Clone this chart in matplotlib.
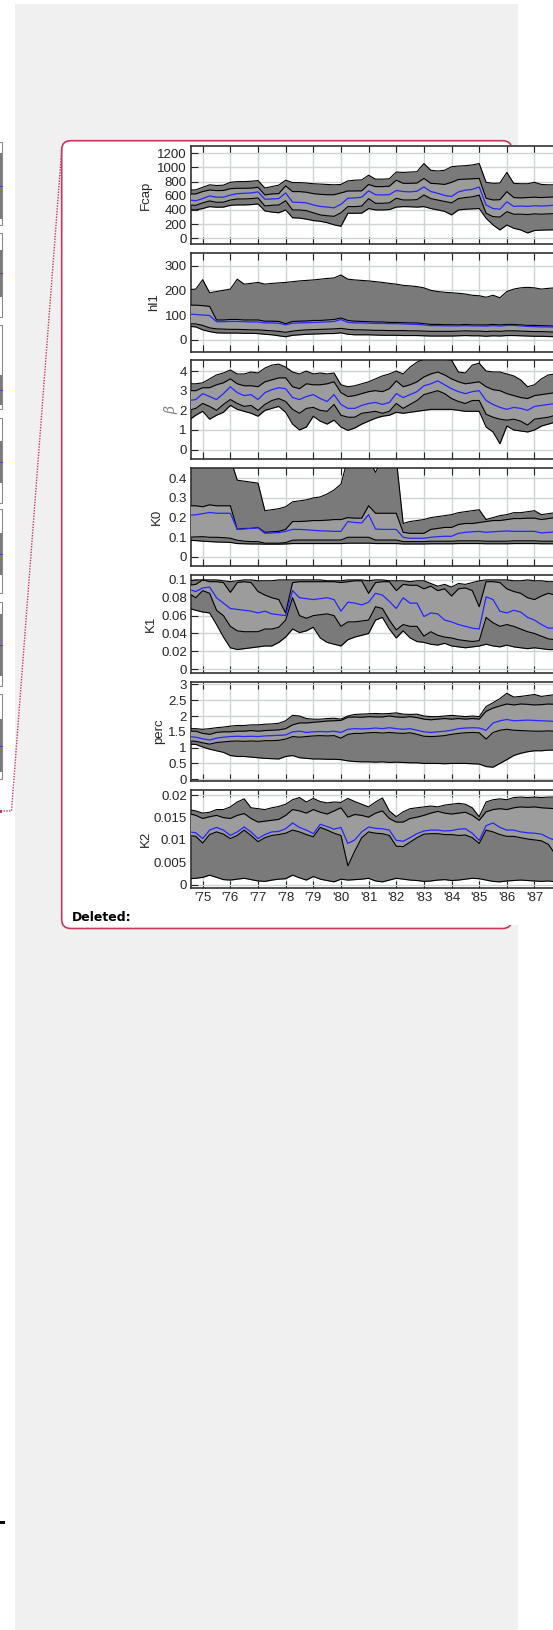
import matplotlib
matplotlib.use("Agg")
import matplotlib.pyplot as plt
import numpy as np
from matplotlib.patches import Rectangle, FancyBboxPatch

W, H = 553, 1630

# quarterly time grid (decimal years)
years = np.arange(1974.5, 1988.01, 0.25)
year_ticks = list(range(1975, 1990))
# labels past '87 fall outside the visible crop
year_labels = ["'%02d" % (y % 100) if y <= 1987 else "" for y in year_ticks]

# ---- Fcap ----
fcap_hi95 = [680, 684, 720, 755, 745, 750, 790, 800, 800, 805, 815,
             710, 730, 750, 820, 786, 786, 780, 770, 765, 760, 755,
             760, 810, 820, 824, 890, 835, 835, 840, 935, 930, 935,
             940, 1055, 960, 950, 960, 1010, 1020, 1025, 1035, 1055, 790,
             776, 780, 930, 776, 770, 770, 790, 760, 755, 755, 760]
fcap_hi50 = [626, 626, 660, 682, 673, 675, 700, 706, 706, 708, 720,
             612, 626, 630, 740, 659, 659, 650, 630, 620, 615, 615,
             640, 668, 668, 670, 760, 729, 729, 735, 820, 776, 776,
             780, 845, 776, 770, 760, 790, 830, 835, 840, 845, 565,
             541, 545, 659, 575, 570, 575, 580, 575, 580, 585, 590]
fcap_med = [541, 530, 560, 598, 580, 580, 610, 630, 635, 640, 655,
            551, 555, 560, 640, 510, 507, 500, 470, 450, 440, 430,
            480, 565, 570, 580, 670, 615, 612, 615, 675, 660, 655,
            665, 725, 660, 635, 605, 590, 655, 680, 690, 725, 470,
            420, 410, 515, 450, 455, 450, 460, 455, 460, 470, 475]
fcap_lo50 = [471, 465, 500, 527, 508, 510, 540, 555, 555, 560, 570,
             456, 466, 470, 530, 400, 400, 390, 360, 330, 318, 310,
             360, 447, 447, 455, 560, 494, 494, 500, 565, 541, 541,
             545, 612, 560, 540, 520, 500, 560, 575, 585, 610, 353,
             306, 300, 376, 340, 340, 335, 345, 340, 345, 350, 355]
fcap_lo95 = [400, 400, 420, 447, 438, 440, 465, 471, 471, 475, 485,
             386, 370, 360, 400, 290, 285, 270, 250, 240, 220, 190,
             170, 353, 353, 355, 420, 400, 400, 405, 440, 447, 445,
             440, 447, 420, 400, 380, 330, 400, 410, 415, 420, 282,
             188, 118, 188, 141, 118, 75, 110, 115, 118, 120, 125]

# ---- hl1 ----
hl1_hi95 = [203, 205, 243, 190, 195, 200, 205, 245, 225, 228, 232,
            225, 228, 230, 232, 235, 238, 240, 242, 245, 248, 250,
            262, 245, 242, 240, 238, 235, 232, 228, 225, 220, 218,
            215, 210, 200, 195, 192, 190, 188, 185, 180, 178, 172,
            180, 170, 195, 205, 210, 212, 210, 205, 208, 210, 208]
hl1_hi50 = [140, 140, 138, 135, 80, 80, 82, 82, 80, 80, 80,
            75, 75, 74, 65, 74, 75, 76, 78, 78, 80, 82,
            88, 78, 75, 74, 73, 72, 72, 70, 70, 69, 68,
            68, 65, 62, 62, 61, 61, 60, 62, 60, 60, 60,
            62, 60, 62, 62, 60, 58, 58, 57, 56, 55, 55]
hl1_med = [104, 102, 100, 98, 73, 73, 74, 74, 73, 72, 72,
           68, 68, 67, 60, 67, 68, 69, 70, 71, 72, 74,
           82, 70, 68, 68, 67, 66, 66, 65, 65, 64, 63,
           62, 60, 57, 57, 56, 56, 56, 57, 56, 56, 55,
           57, 55, 58, 58, 56, 54, 53, 52, 52, 51, 50]
hl1_lo50 = [65, 64, 58, 48, 44, 43, 42, 42, 41, 40, 40,
            38, 36, 34, 30, 35, 38, 40, 41, 42, 43, 44,
            46, 42, 40, 40, 39, 38, 38, 37, 37, 37, 36,
            36, 35, 34, 34, 34, 34, 35, 36, 35, 35, 33,
            35, 34, 36, 36, 35, 34, 33, 33, 32, 31, 31]
hl1_lo95 = [54, 52, 40, 33, 28, 27, 27, 27, 26, 26, 25,
            22, 20, 16, 12, 18, 20, 22, 23, 24, 25, 25,
            28, 22, 20, 20, 20, 19, 18, 18, 18, 17, 17,
            17, 16, 15, 15, 15, 15, 16, 17, 16, 16, 14,
            16, 15, 17, 17, 16, 15, 14, 14, 13, 12, 12]

# ---- beta ----
beta_hi95 = [3.35, 3.35, 3.4, 3.6, 3.8, 3.9, 4.05, 3.85, 3.85, 3.95, 3.9,
             4.15, 4.3, 4.35, 4.2, 3.95, 3.85, 4.0, 3.85, 3.9, 3.85, 3.9,
             3.3, 3.2, 3.25, 3.35, 3.45, 3.6, 3.75, 3.85, 4.0, 3.85, 4.2,
             4.45, 4.6, 4.6, 4.6, 4.6, 4.55, 3.95, 3.9, 4.3, 4.4, 4.0,
             3.95, 3.95, 3.85, 3.75, 3.55, 3.2, 3.3, 3.6, 3.8, 3.85, 3.9]
beta_hi50 = [3.0, 3.0, 3.15, 3.15, 3.3, 3.4, 3.6, 3.35, 3.25, 3.25, 3.2,
             3.45, 3.55, 3.65, 3.65, 3.2, 3.1, 3.35, 3.3, 3.3, 3.35, 3.45,
             2.9, 2.7, 2.75, 2.85, 2.95, 3.0, 2.95, 3.1, 3.5, 3.2, 3.3,
             3.45, 3.7, 3.85, 3.95, 3.8, 3.6, 3.45, 3.35, 3.4, 3.45, 3.2,
             3.05, 3.0, 2.85, 2.75, 2.65, 2.6, 2.75, 2.8, 2.85, 2.9, 2.95]
beta_med = [2.5, 2.55, 2.85, 2.7, 2.55, 2.85, 3.2, 2.9, 2.75, 2.8, 2.55,
            2.9, 3.05, 3.15, 3.1, 2.65, 2.55, 2.7, 2.8, 2.6, 2.45, 2.8,
            2.3, 2.1, 2.1, 2.25, 2.35, 2.4, 2.3, 2.4, 2.85, 2.65, 2.8,
            2.95, 3.25, 3.35, 3.5, 3.3, 3.1, 2.95, 2.85, 2.95, 3.0, 2.5,
            2.3, 2.15, 2.05, 2.15, 2.1, 2.0, 2.2, 2.25, 2.3, 2.35, 2.4]
beta_lo50 = [2.0, 2.1, 2.35, 2.2, 2.0, 2.3, 2.55, 2.35, 2.2, 2.25, 2.0,
             2.3, 2.5, 2.6, 2.45, 2.05, 1.85, 2.1, 2.15, 2.0, 1.95, 2.3,
             1.75, 1.65, 1.65, 1.85, 1.9, 1.95, 1.85, 1.95, 2.35, 2.1, 2.3,
             2.5, 2.8, 2.9, 3.0, 2.85, 2.6, 2.45, 2.35, 2.5, 2.5, 1.8,
             1.65, 1.55, 1.5, 1.55, 1.45, 1.25, 1.55, 1.6, 1.65, 1.75, 1.85]
beta_lo95 = [1.5, 1.75, 1.95, 1.55, 1.75, 1.9, 2.25, 2.05, 1.95, 1.85, 1.7,
             2.0, 2.1, 2.2, 1.9, 1.3, 1.0, 1.15, 1.7, 1.45, 1.3, 1.5,
             1.15, 0.98, 1.1, 1.3, 1.45, 1.6, 1.7, 1.75, 1.9, 1.85, 1.9,
             1.95, 2.0, 2.05, 2.05, 2.05, 2.05, 2.0, 1.95, 1.95, 1.95, 1.15,
             0.9, 0.3, 1.2, 1.0, 0.95, 0.9, 1.0, 1.2, 1.3, 1.4, 1.45]

# ---- K0 ----
k0_hi95 = [0.5, 0.5, 0.5, 0.5, 0.5, 0.5, 0.5, 0.39, 0.385, 0.38, 0.375,
           0.235, 0.24, 0.245, 0.255, 0.28, 0.285, 0.29, 0.3, 0.305, 0.32, 0.34,
           0.37, 0.5, 0.5, 0.5, 0.5, 0.43, 0.5, 0.5, 0.5, 0.17, 0.18,
           0.185, 0.19, 0.2, 0.205, 0.21, 0.215, 0.225, 0.23, 0.235, 0.24, 0.19,
           0.2, 0.21, 0.215, 0.225, 0.225, 0.23, 0.235, 0.215, 0.22, 0.225, 0.225]
k0_hi50 = [0.26, 0.26, 0.255, 0.265, 0.26, 0.26, 0.26, 0.14, 0.145, 0.145, 0.15,
           0.125, 0.128, 0.13, 0.14, 0.18, 0.18, 0.182, 0.185, 0.185, 0.187, 0.19,
           0.19, 0.2, 0.197, 0.197, 0.26, 0.222, 0.222, 0.222, 0.222, 0.125, 0.12,
           0.12, 0.12, 0.14, 0.145, 0.15, 0.15, 0.165, 0.17, 0.17, 0.175, 0.18,
           0.185, 0.185, 0.19, 0.195, 0.195, 0.197, 0.197, 0.19, 0.195, 0.2, 0.2]
k0_med = [0.212, 0.214, 0.22, 0.226, 0.222, 0.222, 0.222, 0.14, 0.142, 0.145, 0.148,
          0.12, 0.122, 0.124, 0.13, 0.14, 0.14, 0.138, 0.135, 0.133, 0.132, 0.13,
          0.13, 0.18, 0.175, 0.173, 0.215, 0.142, 0.14, 0.14, 0.14, 0.1, 0.095,
          0.095, 0.095, 0.1, 0.103, 0.105, 0.105, 0.12, 0.125, 0.128, 0.13, 0.125,
          0.128, 0.13, 0.132, 0.13, 0.13, 0.13, 0.13, 0.122, 0.125, 0.127, 0.128]
k0_lo50 = [0.1, 0.102, 0.103, 0.1, 0.1, 0.098, 0.095, 0.085, 0.08, 0.078, 0.078,
           0.07, 0.07, 0.07, 0.073, 0.085, 0.086, 0.086, 0.086, 0.086, 0.086, 0.086,
           0.086, 0.1, 0.1, 0.1, 0.1, 0.086, 0.086, 0.086, 0.086, 0.078, 0.078,
           0.078, 0.078, 0.08, 0.08, 0.08, 0.08, 0.082, 0.082, 0.082, 0.082, 0.08,
           0.08, 0.08, 0.08, 0.082, 0.082, 0.082, 0.082, 0.08, 0.08, 0.08, 0.08]
k0_lo95 = [0.085, 0.083, 0.08, 0.078, 0.076, 0.075, 0.074, 0.068, 0.067, 0.066, 0.066,
           0.065, 0.065, 0.065, 0.066, 0.068, 0.068, 0.068, 0.068, 0.068, 0.068, 0.068,
           0.068, 0.07, 0.07, 0.07, 0.07, 0.068, 0.068, 0.068, 0.068, 0.066, 0.066,
           0.066, 0.066, 0.067, 0.067, 0.067, 0.067, 0.068, 0.068, 0.068, 0.068, 0.067,
           0.067, 0.067, 0.067, 0.068, 0.068, 0.068, 0.068, 0.067, 0.067, 0.067, 0.067]

# ---- K1 ----
k1_hi95 = [0.099, 0.1, 0.1, 0.1, 0.1, 0.099, 0.098, 0.099, 0.1, 0.1, 0.099,
           0.099, 0.099, 0.1, 0.1, 0.1, 0.1, 0.1, 0.1, 0.1, 0.099, 0.099,
           0.099, 0.1, 0.1, 0.1, 0.099, 0.1, 0.1, 0.099, 0.099, 0.099, 0.098,
           0.099, 0.099, 0.096, 0.093, 0.095, 0.092, 0.096, 0.095, 0.097, 0.099, 0.1,
           0.1, 0.1, 0.1, 0.099, 0.099, 0.1, 0.099, 0.099, 0.098, 0.098, 0.098]
k1_hi50 = [0.094, 0.095, 0.1, 0.098, 0.098, 0.097, 0.086, 0.097, 0.098, 0.097, 0.087,
           0.083, 0.08, 0.078, 0.063, 0.097, 0.098, 0.098, 0.098, 0.098, 0.098, 0.098,
           0.097, 0.098, 0.099, 0.099, 0.085, 0.097, 0.098, 0.098, 0.088, 0.095, 0.094,
           0.094, 0.09, 0.093, 0.088, 0.09, 0.082, 0.09, 0.091, 0.088, 0.07, 0.098,
           0.098, 0.097, 0.09, 0.087, 0.085, 0.08, 0.078, 0.082, 0.085, 0.083, 0.082]
k1_med = [0.0895, 0.087, 0.091, 0.092, 0.08, 0.074, 0.068, 0.067, 0.066, 0.065, 0.063,
          0.065, 0.062, 0.061, 0.06, 0.088, 0.08, 0.079, 0.078, 0.079, 0.08, 0.078,
          0.065, 0.075, 0.074, 0.072, 0.075, 0.085, 0.083, 0.076, 0.068, 0.08, 0.074,
          0.074, 0.059, 0.063, 0.062, 0.055, 0.053, 0.05, 0.048, 0.046, 0.045, 0.081,
          0.078, 0.065, 0.063, 0.066, 0.064, 0.058, 0.055, 0.05, 0.046, 0.046, 0.046]
k1_lo50 = [0.085, 0.08, 0.088, 0.085, 0.066, 0.06, 0.048, 0.043, 0.042, 0.042, 0.042,
           0.045, 0.045, 0.047, 0.055, 0.08, 0.06, 0.057, 0.06, 0.061, 0.062, 0.06,
           0.048, 0.053, 0.053, 0.054, 0.055, 0.07, 0.068, 0.055, 0.044, 0.05, 0.048,
           0.048, 0.037, 0.042, 0.038, 0.036, 0.035, 0.033, 0.032, 0.031, 0.032, 0.058,
           0.052, 0.048, 0.05, 0.048, 0.045, 0.042, 0.04, 0.037, 0.034, 0.033, 0.033]
k1_lo95 = [0.068, 0.066, 0.064, 0.063, 0.05, 0.036, 0.024, 0.022, 0.023, 0.024, 0.025,
           0.026, 0.026, 0.03, 0.036, 0.045, 0.041, 0.043, 0.047, 0.035, 0.03, 0.028,
           0.026, 0.033, 0.036, 0.038, 0.04, 0.055, 0.058, 0.045, 0.035, 0.043, 0.035,
           0.031, 0.03, 0.028, 0.027, 0.029, 0.026, 0.025, 0.024, 0.025, 0.026, 0.028,
           0.026, 0.025, 0.027, 0.025, 0.024, 0.023, 0.024, 0.023, 0.022, 0.022, 0.022]

# ---- perc ----
perc_hi95 = [1.6, 1.6, 1.58, 1.6, 1.63, 1.65, 1.68, 1.7, 1.7, 1.72, 1.72,
             1.74, 1.75, 1.77, 1.85, 2.02, 2.0, 1.92, 1.9, 1.9, 1.92, 1.93,
             1.9, 2.0, 2.05, 2.06, 2.07, 2.08, 2.07, 2.08, 2.1, 2.06, 2.05,
             2.06, 2.0, 1.98, 1.98, 2.0, 2.02, 2.0, 1.98, 2.0, 1.98, 2.3,
             2.42, 2.55, 2.72, 2.6, 2.62, 2.65, 2.68, 2.62, 2.65, 2.68, 2.7]
perc_hi50 = [1.52, 1.52, 1.45, 1.42, 1.48, 1.5, 1.5, 1.52, 1.52, 1.54, 1.52,
             1.54, 1.55, 1.56, 1.6, 1.72, 1.78, 1.78, 1.8, 1.82, 1.84, 1.85,
             1.86, 1.96, 1.97, 1.96, 1.98, 1.97, 1.97, 2.0, 1.97, 1.96, 1.98,
             1.95, 1.9, 1.88, 1.9, 1.92, 1.9, 1.92, 1.9, 1.92, 1.9, 2.15,
             2.25, 2.32, 2.38, 2.35, 2.38, 2.37, 2.35, 2.36, 2.38, 2.37, 2.36]
perc_med = [1.35, 1.33, 1.28, 1.24, 1.3, 1.33, 1.35, 1.36, 1.35, 1.36, 1.35,
            1.37, 1.38, 1.39, 1.4, 1.5, 1.52, 1.48, 1.5, 1.51, 1.5, 1.52,
            1.48, 1.58, 1.6, 1.59, 1.6, 1.62, 1.6, 1.63, 1.6, 1.58, 1.6,
            1.55, 1.5, 1.48, 1.5, 1.52, 1.55, 1.6, 1.62, 1.63, 1.62, 1.55,
            1.78, 1.85, 1.89, 1.85, 1.86, 1.87, 1.86, 1.85, 1.84, 1.83, 1.82]
perc_lo50 = [1.21, 1.2, 1.15, 1.11, 1.16, 1.18, 1.2, 1.21, 1.2, 1.21, 1.2,
             1.22, 1.22, 1.23, 1.27, 1.35, 1.33, 1.35, 1.37, 1.38, 1.37, 1.38,
             1.3, 1.42, 1.45, 1.45, 1.47, 1.48, 1.46, 1.48, 1.46, 1.45, 1.47,
             1.42, 1.36, 1.35, 1.36, 1.38, 1.42, 1.45, 1.47, 1.48, 1.47, 1.27,
             1.48, 1.55, 1.58, 1.55, 1.54, 1.53, 1.52, 1.52, 1.53, 1.52, 1.52]
perc_lo95 = [1.11, 1.1, 1.02, 0.95, 0.9, 0.85, 0.75, 0.72, 0.72, 0.7, 0.68,
             0.66, 0.65, 0.64, 0.72, 0.75, 0.68, 0.66, 0.64, 0.64, 0.63, 0.63,
             0.62, 0.58, 0.56, 0.55, 0.55, 0.54, 0.55, 0.53, 0.54, 0.53, 0.52,
             0.52, 0.5, 0.5, 0.5, 0.49, 0.5, 0.5, 0.5, 0.49, 0.48, 0.4,
             0.38, 0.5, 0.62, 0.75, 0.82, 0.87, 0.9, 0.9, 0.92, 0.92, 0.93]

# ---- K2 ----
k2_hi95 = [0.0168, 0.0165, 0.016, 0.0162, 0.0168, 0.0168, 0.0174, 0.0185, 0.0192, 0.0172, 0.017,
           0.0168, 0.0172, 0.0175, 0.018, 0.019, 0.0195, 0.0185, 0.0193, 0.0186, 0.0183, 0.0185,
           0.0184, 0.0193, 0.0186, 0.018, 0.0174, 0.0185, 0.0194, 0.0165, 0.0152, 0.0163, 0.017,
           0.0172, 0.0174, 0.0176, 0.0174, 0.0178, 0.018, 0.0182, 0.018, 0.0172, 0.0152, 0.0185,
           0.019, 0.0192, 0.019, 0.0195, 0.0196, 0.0195, 0.0196, 0.0195, 0.0196, 0.0196, 0.0195]
k2_hi50 = [0.0159, 0.0155, 0.0148, 0.0152, 0.0155, 0.015, 0.0148, 0.0155, 0.0159, 0.0148, 0.014,
           0.0142, 0.0144, 0.0146, 0.0155, 0.0168, 0.0165, 0.016, 0.0168, 0.0162, 0.0158, 0.0165,
           0.0172, 0.0151, 0.0157, 0.0155, 0.0151, 0.016, 0.0165, 0.0148, 0.014, 0.014, 0.0148,
           0.0151, 0.0155, 0.016, 0.0164, 0.016, 0.0158, 0.016, 0.0162, 0.0155, 0.0144, 0.0163,
           0.0168, 0.017, 0.0168, 0.0172, 0.0174, 0.0173, 0.0174, 0.0172, 0.0171, 0.017, 0.017]
k2_med = [0.0118, 0.0116, 0.0103, 0.0122, 0.0128, 0.0122, 0.011, 0.0118, 0.0129, 0.0118, 0.0103,
          0.0112, 0.0118, 0.0119, 0.0125, 0.0138, 0.0128, 0.0122, 0.0114, 0.0135, 0.013, 0.0124,
          0.0128, 0.0092, 0.01, 0.0118, 0.0129, 0.0126, 0.0125, 0.0122, 0.0099, 0.0097, 0.0105,
          0.0114, 0.012, 0.0122, 0.0122, 0.012, 0.0121, 0.0124, 0.0125, 0.0115, 0.0099, 0.0132,
          0.0138, 0.0128, 0.0122, 0.0122, 0.0118, 0.0116, 0.0115, 0.0113, 0.0105, 0.0099, 0.0098]
k2_lo50 = [0.011, 0.0108, 0.0093, 0.0112, 0.0118, 0.0113, 0.0103, 0.011, 0.0122, 0.011, 0.0096,
           0.0105, 0.011, 0.0112, 0.0115, 0.0122, 0.0118, 0.0112, 0.0107, 0.0128, 0.0122, 0.0115,
           0.011, 0.0042, 0.0075, 0.0105, 0.0118, 0.0115, 0.0114, 0.011, 0.0086, 0.0085, 0.0095,
           0.0105, 0.0113, 0.0114, 0.0114, 0.0112, 0.0112, 0.011, 0.0111, 0.0105, 0.0092, 0.0122,
           0.0118, 0.0112, 0.0108, 0.0108, 0.0105, 0.0102, 0.01, 0.0098, 0.009, 0.0068, 0.0062]
k2_lo95 = [0.0013, 0.0014, 0.0016, 0.0021, 0.0016, 0.0011, 0.001, 0.0012, 0.0014, 0.0011, 0.0008,
           0.0007, 0.001, 0.0012, 0.0013, 0.0021, 0.0015, 0.001, 0.0018, 0.0012, 0.0009, 0.0006,
           0.0012, 0.001, 0.0011, 0.0012, 0.0014, 0.0008, 0.0006, 0.001, 0.0014, 0.0012, 0.001,
           0.0009, 0.0007, 0.0008, 0.001, 0.0011, 0.0009, 0.001, 0.0012, 0.0014, 0.0013, 0.001,
           0.0007, 0.0006, 0.0008, 0.0009, 0.001, 0.0009, 0.0008, 0.0007, 0.0008, 0.0006, 0.0006]

panels = [
    ("Fcap", [fcap_lo95, fcap_lo50, fcap_med, fcap_hi50, fcap_hi95], (-85, 1307), np.arange(0, 1201, 200), 145.7),
    ("hl1", [hl1_lo95, hl1_lo50, hl1_med, hl1_hi50, hl1_hi95], (-48, 351), np.arange(0, 301, 100), 154),
    ("\u03b2", [beta_lo95, beta_lo50, beta_med, beta_hi50, beta_hi95], (-0.47, 4.545), np.arange(0, 5, 1), 171),
    ("K0", [k0_lo95, k0_lo50, k0_med, k0_hi50, k0_hi95], (-0.047, 0.454), np.arange(0, 0.41, 0.1), 157),
    ("K1", [k1_lo95, k1_lo50, k1_med, k1_hi50, k1_hi95], (-0.0048, 0.1056), np.arange(0, 0.101, 0.02), 150.5),
    ("perc", [perc_lo95, perc_lo50, perc_med, perc_hi50, perc_hi95], (-0.05, 3.07), np.arange(0, 3.01, 0.5), 159),
    ("K2", [k2_lo95, k2_lo50, k2_med, k2_hi50, k2_hi95], (-0.0008, 0.0213), np.arange(0, 0.0201, 0.005), 146),
]

plt.rcParams['font.family'] = ['Liberation Sans', 'DejaVu Sans']

fig = plt.figure(figsize=(W / 100, H / 100), dpi=100)
fig.patch.set_facecolor("white")

# page background, comment balloon etc, drawn in pixel coordinates
bg = fig.add_axes([0, 0, 1, 1], zorder=-5)
bg.set_xlim(0, W)
bg.set_ylim(H, 0)
bg.axis("off")
red = "#c8385a"
bg.add_patch(Rectangle((15, 4), 503, H, fc="#f0f0f0", ec="none"))
bg.add_patch(FancyBboxPatch((61.7, 140.7), 450, 787.8, boxstyle="round,pad=0,rounding_size=9",
                            fc="white", ec=red, lw=1.2))
bg.add_patch(Rectangle((505, 145), 60, 780, fc="white", ec="none", zorder=3))
bg.plot([61.7, 11.5, 0], [150, 811, 811], color=red, lw=1.0, ls=(0, (1, 1)))
bg.add_patch(Rectangle((0, 809.5), 2, 3, fc=red, ec="none"))
bg.text(71.7, 921, "Deleted:", fontsize=9, fontweight="bold", family="DejaVu Sans",
        va="baseline", ha="left", color="black")
bg.add_patch(Rectangle((0, 1521), 5, 3, fc="black", ec="none"))

# cut-off copy of the chart in the document body (left edge)
mini_boxes = [(141.6, 224.7), (233.4, 316.5), (325, 409), (418.4, 502.5), (509, 593), (602, 686), (694, 779)]
mini_fills = [(153, 219), (249.5, 296.8), (375, 405), (441, 483), (533, 574.5), (613.6, 675.5), (719, 772)]
for (t, b), (ft, fb) in zip(mini_boxes, mini_fills):
    bg.add_patch(Rectangle((-4, t), 6.3, b - t, fc="white", ec="#8a8a8a", lw=0.8))
    bg.add_patch(Rectangle((0, ft), 2, fb - ft, fc="#7a7a7a", ec="none"))
    bg.plot([0, 2], [(ft + fb) / 2] * 2, color="#3030ff", lw=0.6)

# chart panels
ax_left, ax_width, ax_h, pitch, top0 = 191, 429, 98.6, 107.3, 145.7
for i, (name, series, ylim, yticks, label_x) in enumerate(panels):
    lo95, lo50, med, hi50, hi95 = series
    top = top0 + pitch * i
    ax = fig.add_axes([ax_left / W, 1 - (top + ax_h) / H, ax_width / W, ax_h / H], zorder=1)
    ax.set_facecolor("white")
    ax.fill_between(years, lo95, hi95, color="#7a7a7a", lw=0, zorder=2)
    ax.fill_between(years, lo50, hi50, color="#9c9c9c", lw=0, zorder=3)
    for s in (lo95, lo50, hi50, hi95):
        ax.plot(years, s, color="black", lw=0.8, zorder=4)
    ax.plot(years, med, color="#2626ff", lw=0.9, zorder=5)

    ax.set_xlim(1974.577, 1974.577 + ax_width / 27.65)
    ax.set_ylim(*ylim)
    ax.set_xticks(year_ticks)
    ax.set_yticks(yticks)
    ax.set_yticklabels(["%g" % round(v, 4) for v in yticks])
    if i == len(panels) - 1:
        ax.set_xticklabels(year_labels)
    else:
        ax.set_xticklabels([])
    ax.set_axisbelow(True)
    ax.grid(True, color="#d0d4d4", lw=1.0)
    ax.tick_params(direction="in", length=5, width=0.8, top=True, right=True,
                   color="#262626", labelsize=9.5, labelcolor="#262626", pad=3)
    for sp in ax.spines.values():
        sp.set_color("#333333")
        sp.set_linewidth(1.2)

    cy = top + ax_h / 2
    if name == "\u03b2":
        fig.text(label_x / W, 1 - cy / H, name, rotation=90, ha="center", va="center",
                 fontsize=10, style="italic", family="DejaVu Serif", color="#808080")
    else:
        fig.text(label_x / W, 1 - cy / H, name, rotation=90, ha="center", va="center",
                 fontsize=9.5, color="#262626")

fig.savefig("out.png", dpi=100)
